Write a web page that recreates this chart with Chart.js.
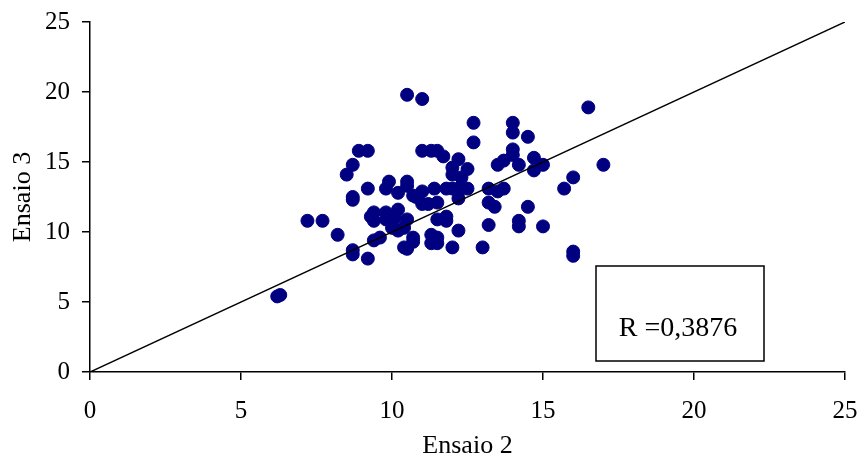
<!DOCTYPE html>
<html>
<head>
<meta charset="utf-8">
<script src="https://cdn.jsdelivr.net/npm/chart.js@4/dist/chart.umd.min.js"></script>
<style>
  html, body { margin: 0; padding: 0; background: #fff; }
  #wrap { width: 862px; height: 462px; }
</style>
</head>
<body>
<div id="wrap"><canvas id="scatter" width="862" height="462"></canvas></div>
<script>
// Ensaio 2 (x) e Ensaio 3 (y)
const ensaio2 = [
  6.2, 6.3, 7.2, 7.7, 8.2, 8.5, 8.7, 8.7, 8.7, 8.7,
  8.7, 8.9, 9.2, 9.2, 9.2, 9.3, 9.4, 9.4, 9.4, 9.6,
  9.8, 9.8, 9.8, 9.9, 10.0, 10.1, 10.2, 10.2, 10.2, 10.4,
  10.4, 10.5, 10.5, 10.5, 10.5, 10.5, 10.7, 10.7, 10.7, 10.8,
  11.0, 11.0, 11.0, 11.0, 11.2, 11.3, 11.3, 11.3, 11.4, 11.5,
  11.5, 11.5, 11.5, 11.5, 11.7, 11.8, 11.8, 11.8, 12.0, 12.0,
  12.0, 12.0, 12.2, 12.2, 12.2, 12.2, 12.3, 12.5, 12.5, 12.7,
  12.7, 13.0, 13.2, 13.2, 13.2, 13.4, 13.5, 13.5, 13.7, 13.7,
  14.0, 14.0, 14.0, 14.0, 14.2, 14.2, 14.2, 14.5, 14.5, 14.7,
  14.7, 15.0, 15.0, 15.7, 16.0, 16.0, 16.0, 16.5, 17.0
];
const ensaio3 = [
  5.4, 5.5, 10.8, 10.8, 9.8, 14.1, 14.8, 12.5, 12.3, 8.7,
  8.4, 15.8, 15.8, 13.1, 8.1, 11.1, 11.4, 10.8, 9.4, 9.6,
  13.1, 11.4, 10.9, 13.6, 10.3, 11.0, 12.8, 11.6, 10.1, 10.3,
  8.9, 19.8, 13.6, 13.3, 10.9, 8.8, 12.6, 9.6, 9.3, 12.5,
  19.5, 15.8, 12.9, 12.0, 12.0, 15.8, 9.8, 9.2, 13.1, 15.8,
  12.1, 10.9, 9.6, 9.2, 15.4, 13.1, 11.1, 10.8, 14.6, 14.1,
  13.1, 8.9, 15.2, 13.1, 12.4, 10.1, 13.9, 14.5, 13.1, 17.8,
  16.4, 8.9, 13.1, 12.1, 10.5, 11.8, 14.8, 12.9, 15.1, 13.1,
  17.8, 17.1, 15.9, 15.5, 14.8, 10.8, 10.4, 16.8, 11.8, 15.3,
  14.4, 14.8, 10.4, 13.1, 13.9, 8.6, 8.3, 18.9, 14.8
];
const lineX = [0, 25];
const tickStep = 5;
const rLabel = "R =0,3876";

const points = ensaio2.map((x, i) => ({ x: x, y: ensaio3[i] }));
const diag = lineX.map(v => ({ x: v, y: v }));

const serif = "'Liberation Serif', 'Times New Roman', serif";

// caixa com o valor de R (posição relativa à área do gráfico)
const rBox = {
  id: "rBox",
  afterDatasetsDraw(chart) {
    const ctx = chart.ctx;
    const a = chart.chartArea;
    const left = a.left + 506, top = a.top + 244, w = 168, h = 95;
    ctx.save();
    ctx.fillStyle = "#fff";
    ctx.fillRect(left, top, w, h);
    ctx.strokeStyle = "#000";
    ctx.lineWidth = 1.5;
    ctx.strokeRect(left, top, w, h);
    ctx.fillStyle = "#000";
    ctx.font = "28px " + serif;
    ctx.textAlign = "center";
    ctx.textBaseline = "middle";
    ctx.fillText(rLabel, left + w / 2 - 2, top + 63);
    ctx.restore();
  }
};

const axisCommon = {
  type: "linear",
  min: 0,
  max: 25,
  grid: { drawOnChartArea: false, drawTicks: true, tickLength: 8, color: "#000", lineWidth: 1.5 },
  border: { color: "#000", width: 1.5 },
  ticks: { stepSize: tickStep, color: "#000", font: { family: serif, size: 25 } }
};

new Chart(document.getElementById("scatter"), {
  type: "scatter",
  data: {
    datasets: [
      {
        label: "Ensaio",
        data: points,
        backgroundColor: "#000080",
        borderColor: "#000080",
        pointRadius: 6.5,
        pointHoverRadius: 6.5,
        order: 1
      },
      {
        type: "line",
        label: "y = x",
        data: diag,
        borderColor: "#000",
        borderWidth: 1.5,
        pointRadius: 0,
        fill: false,
        order: 0
      }
    ]
  },
  options: {
    responsive: false,
    animation: false,
    layout: { padding: 0 },
    plugins: { legend: { display: false }, tooltip: { enabled: false } },
    scales: {
      x: Object.assign({}, axisCommon, {
        position: "bottom",
        ticks: Object.assign({}, axisCommon.ticks, { padding: 16 }),
        title: { display: true, text: "Ensaio 2", color: "#000", font: { family: serif, size: 26 }, padding: { top: 4, bottom: 0 } },
        afterFit(scale) {
          scale.height = 90;
          scale.paddingLeft = 0;
          scale.paddingRight = 17;
        }
      }),
      y: Object.assign({}, axisCommon, {
        position: "left",
        ticks: Object.assign({}, axisCommon.ticks, { padding: 12 }),
        title: { display: true, text: "Ensaio 3", color: "#000", font: { family: serif, size: 26 }, padding: { top: 8, bottom: 4 } },
        afterFit(scale) {
          scale.width = 90;
          scale.paddingTop = 22;
          scale.paddingBottom = 0;
        }
      })
    }
  },
  plugins: [rBox]
});
</script>
</body>
</html>
